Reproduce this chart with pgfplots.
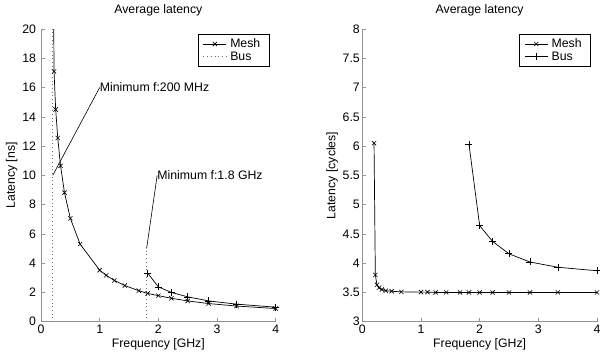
\documentclass[border=0pt]{standalone}
\usepackage{fontspec}
\setmainfont{Liberation Sans}
\usepackage{pgfplots}
\pgfplotsset{compat=1.18}
\begin{document}
\begin{tikzpicture}
\useasboundingbox (0,0) rectangle (600pt,360pt);
\pgfplotsset{
 myax/.style={
  scale only axis, width=234.7pt, height=292.7pt, anchor=south west,
  axis lines*=left, axis line style={-, gray!85, line width=0.9pt},
  tick align=inside, major tick length=4pt, tick style={gray!85, line width=0.6pt},
  xmin=0, xmax=4, xtick={0,1,2,3,4},
  font=\fontsize{12.3}{14}\selectfont,
  /pgf/number format/assume math mode=true,
  title style={yshift=3pt},
  xlabel style={yshift=2pt},
  legend style={at={(rel axis cs:0.972,0.983)}, anchor=north east, draw=black, line width=0.6pt,
    fill=white, font=\fontsize{12.3}{13}\selectfont, inner xsep=5pt, inner ysep=2.5pt, row sep=-1.5pt,
    nodes={inner xsep=3.5pt}},
  legend cell align=left,
  legend image code/.code={\draw[mark repeat=2,mark phase=2] plot coordinates {(0pt,0pt)(11.5pt,0pt)(23pt,0pt)};},
  clip=true,
 },
 meshst/.style={black, line width=0.7pt, mark=x, mark size=3pt, mark options={solid, line width=0.6pt}},
 busst/.style={black, line width=0.7pt, mark=+, mark size=3.5pt, mark options={solid, line width=0.6pt}},
 dotst/.style={black!55, line width=0.6pt, dash pattern=on 0.7pt off 3pt, no marks},
}
% ---------------- left plot ----------------
\begin{axis}[myax, at={(41pt,38.3pt)},
  ymin=0, ymax=20, ytick={0,2,...,20},
  title={Average latency},
  xlabel={Frequency [GHz]}, ylabel={Latency [ns]},
  yticklabel style={xshift=-1.5pt},
  ylabel style={yshift=-2pt},
]
\addplot[meshst] coordinates {
 (0.2,30.25) (0.2222,17.1) (0.25,14.5) (0.2857,12.55) (0.3333,10.65) (0.4,8.82)
 (0.5,7.06) (0.6667,5.3) (1.0,3.52) (1.1111,3.17) (1.25,2.82) (1.4286,2.47)
 (1.6667,2.12) (1.8182,1.93) (2.0,1.78) (2.2222,1.6) (2.5,1.42) (2.8571,1.24)
 (3.3333,1.07) (4.0,0.9)
};
\addlegendentry{Mesh}
\addplot[dotst] coordinates {(0.2,0) (0.2,20)};
\addlegendentry{Bus}
\addplot[busst, forget plot] coordinates {
 (1.8182,3.32) (2.0,2.38) (2.2222,2.0) (2.5,1.7) (2.8571,1.42) (3.3333,1.2) (4.0,0.99)
};
\addplot[dotst, forget plot] coordinates {(1.8,0) (1.8,5)};
\addplot[black, line width=0.6pt, no marks, forget plot] coordinates {(0.2,10) (1.0,16)};
\addplot[black, line width=0.6pt, no marks, forget plot] coordinates {(1.8,5) (1.98,10)};
\node[anchor=west, inner sep=0pt] at (axis cs:1.0,16) {Minimum f:200 MHz};
\node[anchor=west, inner sep=0pt] at (axis cs:1.98,10) {Minimum f:1.8 GHz};
\end{axis}
% ---------------- right plot ----------------
\begin{axis}[myax, at={(362.3pt,38.3pt)},
  ymin=3, ymax=8, ytick={3,3.5,...,8},
  title={Average latency},
  xlabel={Frequency [GHz]}, ylabel={Latency [cycles]},
  yticklabel style={xshift=1pt},
  ylabel style={yshift=-2pt},
]
\addplot[meshst] coordinates {
 (0.2,6.05) (0.2222,3.8) (0.25,3.63) (0.2857,3.58) (0.3333,3.55) (0.4,3.53)
 (0.5,3.52) (0.6667,3.51) (1.0,3.505) (1.1111,3.505) (1.25,3.5) (1.4286,3.5)
 (1.6667,3.5) (1.8182,3.5) (2.0,3.5) (2.2222,3.5) (2.5,3.5) (2.8571,3.5)
 (3.3333,3.5) (4.0,3.5)
};
\addlegendentry{Mesh}
\addplot[busst] coordinates {
 (1.8182,6.03) (2.0,4.64) (2.2222,4.37) (2.5,4.16) (2.8571,4.02) (3.3333,3.93) (4.0,3.87)
};
\addlegendentry{Bus}
\end{axis}
\end{tikzpicture}
\end{document}
